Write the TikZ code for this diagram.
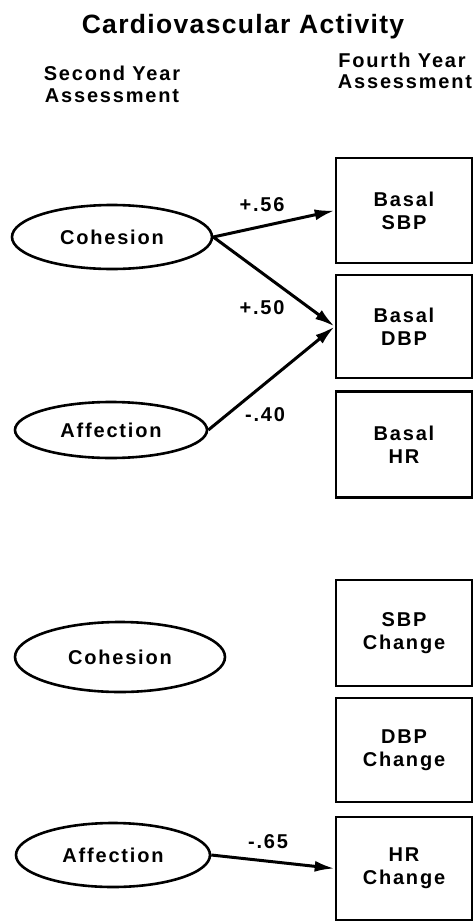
\documentclass[tikz,border=0pt]{standalone}
\usepackage{fontspec}
\usetikzlibrary{arrows.meta,shapes.geometric}
\newfontfamily\labfont{Liberation Sans}[LetterSpace=9]
\newfontfamily\headfont{Liberation Sans}[LetterSpace=5]
\tikzset{
  every node/.style={font=\labfont\bfseries\fontsize{20}{23}\selectfont, inner sep=0pt},
  measure/.style={draw, line width=2.6pt, rectangle, minimum width=136pt, align=center},
  construct/.style={draw, line width=2.6pt, ellipse, align=center},
  path/.style={line width=3pt, -{Latex[length=20pt,width=11pt]}},
  coef/.style={anchor=center}
}
\begin{document}
\begin{tikzpicture}[x=1pt,y=-1pt]
\useasboundingbox (0,0) rectangle (476,921);

% headings
\node[anchor=base, font=\headfont\bfseries\fontsize{26.5}{30}\selectfont] (title) at (243,33) {Cardiovascular Activity};
\node[anchor=base] (sy1) at (112,80) {Second Year};
\node[anchor=base] (sy2) at (112,102) {Assessment};
\node[anchor=base] (fy1) at (402,67) {Fourth Year};
\node[anchor=base] (fy2) at (405,88) {Assessment};

% fourth-year measures
\node[measure, minimum height=105pt] (sbp) at (404,210.5) {Basal\\SBP};
\node[measure, minimum height=103pt] (dbp) at (404,326.5) {Basal\\DBP};
\node[measure, minimum height=106pt] (hr)  at (404,444.5) {Basal\\HR};
\node[measure, minimum height=106pt] (sbpc) at (404,633) {SBP\\Change};
\node[measure, minimum height=104pt] (dbpc) at (404,750) {DBP\\Change};
\node[measure, minimum height=103pt] (hrc) at (404,868.5) {HR\\Change};

% second-year constructs
\node[construct, minimum width=200pt, minimum height=64pt] (coh1) at (112,237) {Cohesion};
\node[construct, minimum width=192pt, minimum height=56pt] (aff1) at (111,430) {Affection};
\node[construct, minimum width=210pt, minimum height=70pt] (coh2) at (120,657) {Cohesion};
\node[construct, minimum width=194pt, minimum height=64pt] (aff2) at (113,855) {Affection};

% paths
\draw[path] (coh1.east) -- (sbp.west);
\draw[path] (coh1.east) -- (dbp.west);
\draw[path] (aff1.east) -- (dbp.west);
\draw[path] (aff2.east) -- (hrc.west);

% coefficients
\node[coef] (c1) at (262,205) {+.56};
\node[coef] (c2) at (262,308) {+.50};
\node[coef] (c3) at (265,415) {-.40};
\node[coef] (c4) at (268,842) {-.65};
\end{tikzpicture}
\end{document}
